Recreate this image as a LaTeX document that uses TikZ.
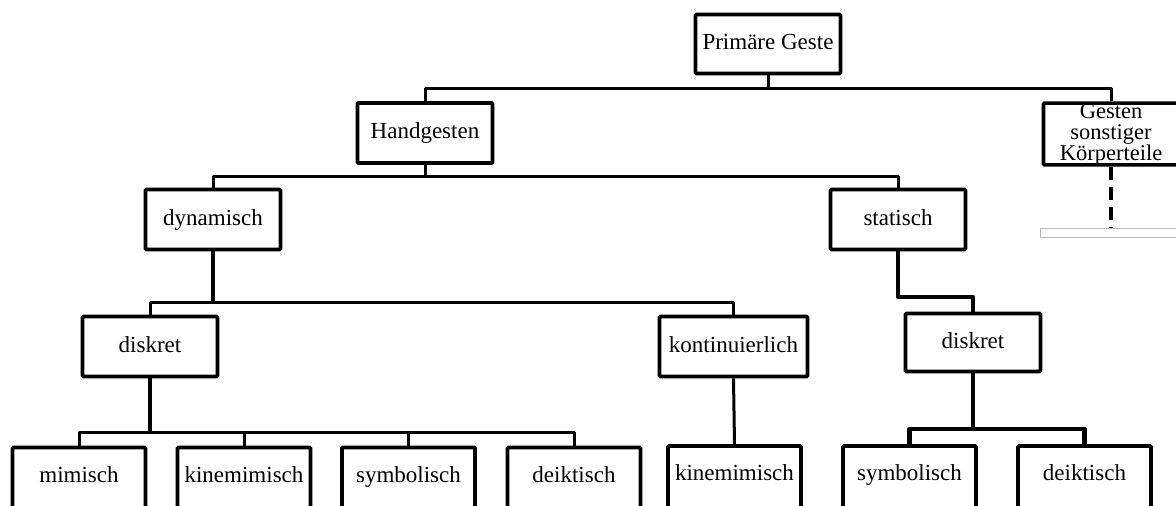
\documentclass[tikz,border=0pt]{standalone}
\usepackage{fontspec}
\setmainfont{Liberation Serif}
\begin{document}
\begin{tikzpicture}[x=1pt,y=-1pt,
  box/.style={draw=black, line width=3.6pt, rounded corners=1pt, inner sep=0pt,
    minimum width=135pt, minimum height=60pt, fill=white,
    font=\fontsize{23}{27}\selectfont, text height=16pt, text depth=5pt},
  low/.style={box, minimum width=133pt, minimum height=70pt, text depth=17pt},
  gbox/.style={draw=black, line width=3.6pt, rounded corners=1pt, inner sep=0pt,
    minimum width=135pt, minimum height=60pt, fill=white, align=center,
    font=\fontsize{22.5}{21}\selectfont},
  lnthin/.style={line width=3pt, line join=round},
  lnmid/.style={line width=3.5pt, line join=round},
  lnthick/.style={line width=4.6pt, line join=round},
]
\useasboundingbox (0,0) rectangle (1176,506);
\fill[white] (0,0) rectangle (1176,506);
\clip (0,0) rectangle (1176,506);

\node[box, minimum width=145pt, minimum height=59pt] (P) at (768,44) {Primäre Geste};
\node[box] (H) at (425,133) {Handgesten};
\node[gbox] (G) at (1111,134) {Gesten\\sonstiger\\Körperteile};
\node[box] (Dy) at (213,219.5) {dynamisch};
\node[box] (St) at (898,219.5) {statisch};
\node[box] (Dl) at (150,346.5) {diskret};
\node[box, minimum width=148pt] (Ko) at (733.5,346.5) {kontinuierlich};
\node[box, minimum height=58pt] (Dr) at (973,342.5) {diskret};
\node[low] (Mi) at (79,482.5) {mimisch};
\node[low] (Ki) at (244,482.5) {kinemimisch};
\node[low] (Sy) at (408.5,482.5) {symbolisch};
\node[low] (De) at (574,482.5) {deiktisch};
\node[low] (Kr) at (734.5,481) {kinemimisch};
\node[low] (Sr) at (909.5,481) {symbolisch};
\node[low] (Der) at (1084.5,481) {deiktisch};
\node[draw=gray!55, line width=0.9pt, fill=white, minimum width=142pt,
  minimum height=9pt, inner sep=0pt] (bar) at (1111,233) {};

\coordinate (j1) at (768,88);
\coordinate (j2) at (425,176);
\coordinate (j3) at (213,302);
\coordinate (j4) at (935,297);
\coordinate (j5) at (973,429);
\coordinate (j6) at (150,432);

\draw[lnthin] (P.south) -- (j1);
\draw[lnthin] (H.north) |- (j1) -| (G.north);
\draw[lnthin] (H.south) -- (j2);
\draw[lnthin] (Dy.north) |- (j2) -| (St.north);
\draw[lnthick] (Dy.south) -- (j3);
\draw[lnthin] (Dl.north) |- (j3) -| (Ko.north);
\draw[lnthick] (St.south) |- (j4) -| (Dr.north);
\draw[lnthick] (Dr.south) -- (j5);
\draw[lnthick] (Sr.north) |- (j5) -| (Der.north);
\draw[lnmid] (Dl.south) -- (j6);
\draw[lnthin] (Mi.north) |- (j6) -| (De.north);
\draw[lnthin] (Ki.north) -- (Ki.north |- j6);
\draw[lnthin] (Sy.north) -- (Sy.north |- j6);
\draw[lnthin] (Ko.south) -- (Kr.north);
\draw[line width=4pt, dash pattern=on 13pt off 7pt] (G.south) -- (bar.north);
\end{tikzpicture}
\end{document}
